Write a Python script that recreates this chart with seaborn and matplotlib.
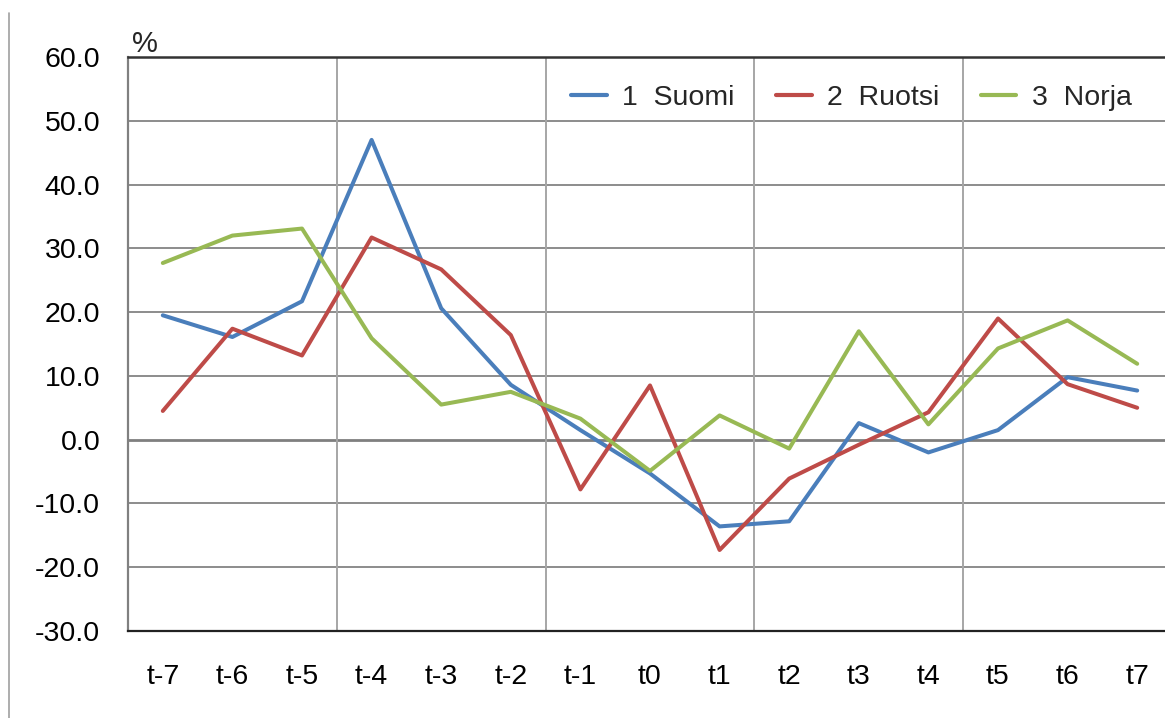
import matplotlib
matplotlib.use("Agg")
import matplotlib.pyplot as plt
import matplotlib.lines as mlines
import seaborn as sns
import pandas as pd
import numpy as np

categories = ["t-7", "t-6", "t-5", "t-4", "t-3", "t-2", "t-1", "t0",
              "t1", "t2", "t3", "t4", "t5", "t6", "t7"]
suomi = [19.5, 16.1, 21.7, 47.0, 20.6, 8.6, 1.5, -5.3, -13.6, -12.8, 2.6, -2.0, 1.5, 9.8, 7.7]
ruotsi = [4.5, 17.4, 13.2, 31.7, 26.7, 16.4, -7.8, 8.5, -17.3, -6.1, -0.8, 4.3, 19.0, 8.7, 5.0]
norja = [27.7, 32.0, 33.1, 15.9, 5.5, 7.5, 3.3, -4.9, 3.8, -1.4, 17.0, 2.4, 14.3, 18.7, 11.9]
series_names = ["1  Suomi", "2  Ruotsi", "3  Norja"]
colors = ["#4A7EBB", "#BE4B48", "#98B954"]
y_ticks = [-30, -20, -10, 0, 10, 20, 30, 40, 50, 60]

sns.set_theme(style="white")
plt.rcParams["font.family"] = ["Liberation Sans", "DejaVu Sans"]

rows = []
for name, vals in zip(series_names, [suomi, ruotsi, norja]):
    for i, (c, v) in enumerate(zip(categories, vals)):
        rows.append({"pos": i, "cat": c, "value": v, "series": name})
df = pd.DataFrame(rows)

fig = plt.figure(figsize=(11.65, 7.18), dpi=100)
ax = fig.add_axes([128 / 1165, (718 - 631) / 718, 1044 / 1165, 574 / 718])

sns.lineplot(data=df, x="pos", y="value", hue="series", palette=colors,
             hue_order=series_names, linewidth=2.9, ax=ax, sort=False,
             legend=False)

ax.set_xlim(-0.5, len(categories) - 0.5)
ax.set_ylim(-30, 60)
ax.set_yticks(y_ticks)
ax.set_yticklabels([f"{v:.1f}" for v in y_ticks], fontsize=20.5)
ax.set_xticks(range(len(categories)))
ax.set_xticklabels(categories, fontsize=20.5)
ax.tick_params(axis="both", length=0, colors="black")
ax.tick_params(axis="y", pad=20)
ax.tick_params(axis="x", pad=24)
ax.set_xlabel("")
ax.set_ylabel("")

# gridlines
for y in y_ticks:
    if y == 0:
        ax.axhline(y, color="#7f7f7f", lw=2.0, zorder=1)
    elif y not in (-30, 60):
        ax.axhline(y, color="#8c8c8c", lw=1.4, zorder=1)
for x in [2.5, 5.5, 8.5, 11.5]:
    ax.axvline(x, color="#a6a6a6", lw=1.4, zorder=1)

ax.spines["right"].set_visible(False)
ax.spines["top"].set_color("#333333")
ax.spines["top"].set_linewidth(1.8)
ax.spines["bottom"].set_color("#222222")
ax.spines["bottom"].set_linewidth(1.6)
ax.spines["left"].set_color("#808080")
ax.spines["left"].set_linewidth(1.6)

handles = [mlines.Line2D([], [], color=c, lw=3) for c in colors]
ax.legend(handles, series_names, ncol=3, loc="center",
          bbox_to_anchor=(0.693, 0.929), frameon=False, fontsize=20.5,
          handlelength=1.25, handletextpad=0.55, columnspacing=1.45)

ax.text(4 / 1044, 1 + 5 / 574, "%", transform=ax.transAxes, fontsize=21,
        ha="left", va="baseline")

fig.add_artist(mlines.Line2D([9 / 1165, 9 / 1165], [0, 1 - 13 / 718],
                             color="#a0a0a0", lw=1.2, transform=fig.transFigure))

fig.savefig("out.png", dpi=100)
